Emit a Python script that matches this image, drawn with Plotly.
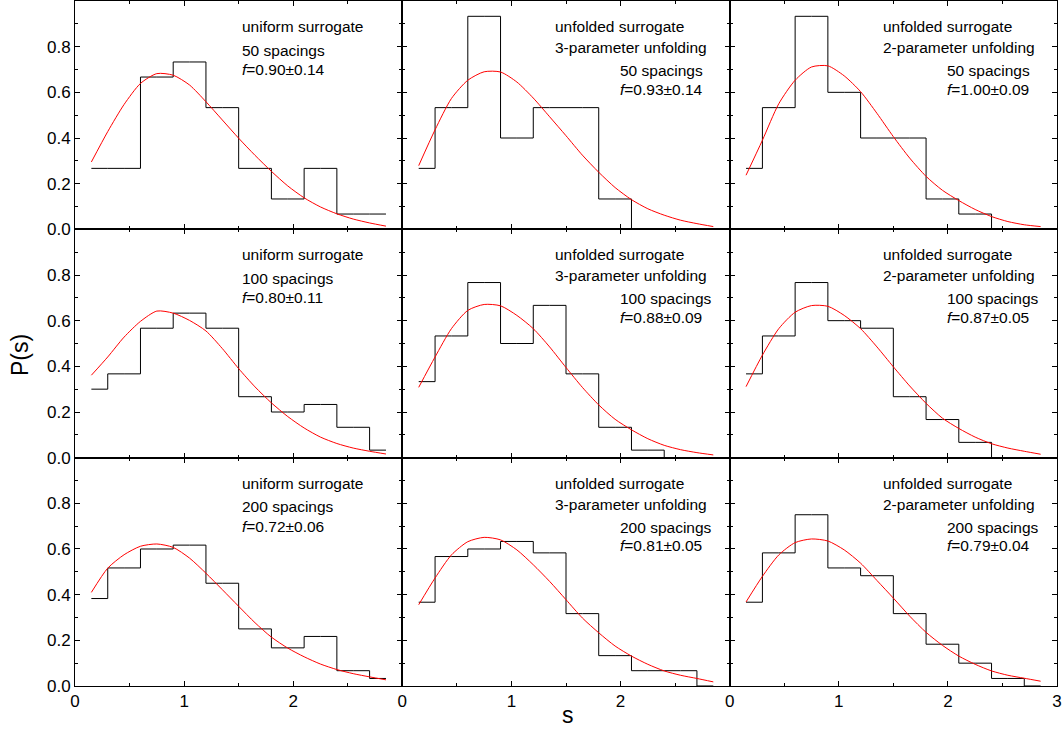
import plotly.graph_objects as go
from plotly.subplots import make_subplots

# ---------------- data ----------------
s_hist = [0.15, 0.45, 0.75, 1.05, 1.35, 1.65, 1.95, 2.25, 2.55, 2.85]
s_fit = [0.15, 0.30, 0.45, 0.60, 0.75, 0.90, 1.05, 1.20, 1.35, 1.50,
         1.65, 1.80, 1.95, 2.10, 2.25, 2.40, 2.55, 2.70, 2.85]

hist_uniform_50 = [0.267, 0.267, 0.667, 0.733, 0.533, 0.267, 0.133, 0.267, 0.067, 0.067]
hist_3par_50 = [0.267, 0.533, 0.933, 0.400, 0.533, 0.533, 0.133, 0.0, 0.0, 0.0]
hist_2par_50 = [0.267, 0.533, 0.933, 0.600, 0.400, 0.400, 0.133, 0.067, 0.0, 0.0]
hist_uniform_100 = [0.300, 0.367, 0.567, 0.633, 0.567, 0.267, 0.200, 0.233, 0.133, 0.033]
hist_3par_100 = [0.333, 0.533, 0.767, 0.500, 0.667, 0.367, 0.133, 0.033, 0.0, 0.0]
hist_2par_100 = [0.367, 0.533, 0.767, 0.600, 0.567, 0.267, 0.167, 0.067, 0.0, 0.0]
hist_uniform_200 = [0.383, 0.517, 0.600, 0.617, 0.450, 0.250, 0.167, 0.217, 0.067, 0.033]
hist_3par_200 = [0.367, 0.567, 0.600, 0.633, 0.583, 0.317, 0.133, 0.067, 0.067, 0.0]
hist_2par_200 = [0.367, 0.583, 0.750, 0.517, 0.483, 0.317, 0.183, 0.100, 0.033, 0.0]

fit_uniform_50 = [0.295, 0.428, 0.547, 0.639, 0.682, 0.675, 0.632, 0.559, 0.479, 0.399,
                  0.324, 0.254, 0.190, 0.138, 0.098, 0.068, 0.045, 0.028, 0.014]
fit_3par_50 = [0.279, 0.436, 0.573, 0.653, 0.690, 0.689, 0.645, 0.575, 0.493, 0.410,
               0.325, 0.250, 0.183, 0.130, 0.090, 0.062, 0.040, 0.025, 0.012]
fit_2par_50 = [0.237, 0.390, 0.550, 0.653, 0.711, 0.716, 0.672, 0.603, 0.508, 0.406,
               0.312, 0.232, 0.171, 0.126, 0.087, 0.056, 0.034, 0.020, 0.012]
fit_uniform_100 = [0.361, 0.441, 0.528, 0.597, 0.642, 0.633, 0.601, 0.555, 0.478, 0.390,
                   0.310, 0.240, 0.180, 0.130, 0.090, 0.062, 0.042, 0.028, 0.016]
fit_3par_100 = [0.308, 0.441, 0.565, 0.645, 0.671, 0.665, 0.623, 0.565, 0.485, 0.395,
                0.308, 0.231, 0.168, 0.122, 0.083, 0.054, 0.035, 0.022, 0.012]
fit_2par_100 = [0.311, 0.449, 0.565, 0.637, 0.666, 0.663, 0.623, 0.565, 0.485, 0.398,
                0.314, 0.238, 0.173, 0.128, 0.090, 0.061, 0.042, 0.028, 0.015]
fit_uniform_200 = [0.410, 0.516, 0.575, 0.612, 0.622, 0.607, 0.560, 0.494, 0.422, 0.349,
                   0.277, 0.214, 0.166, 0.128, 0.096, 0.072, 0.054, 0.040, 0.027]
fit_3par_200 = [0.356, 0.473, 0.574, 0.632, 0.651, 0.640, 0.596, 0.531, 0.458, 0.378,
                0.298, 0.233, 0.175, 0.131, 0.095, 0.066, 0.047, 0.033, 0.018]
fit_2par_200 = [0.368, 0.480, 0.574, 0.628, 0.644, 0.635, 0.596, 0.538, 0.462, 0.385,
                0.306, 0.235, 0.178, 0.131, 0.095, 0.066, 0.047, 0.034, 0.021]

methods = ["uniform surrogate",
           "unfolded surrogate<br>3-parameter unfolding",
           "unfolded surrogate<br>2-parameter unfolding"]
spacings = ["50 spacings", "100 spacings", "200 spacings"]
f_values = [["0.90±0.14", "0.93±0.14", "1.00±0.09"],
            ["0.80±0.11", "0.88±0.09", "0.87±0.05"],
            ["0.72±0.06", "0.81±0.05", "0.79±0.04"]]

hists = [[hist_uniform_50, hist_3par_50, hist_2par_50],
         [hist_uniform_100, hist_3par_100, hist_2par_100],
         [hist_uniform_200, hist_3par_200, hist_2par_200]]
fits = [[fit_uniform_50, fit_3par_50, fit_2par_50],
        [fit_uniform_100, fit_3par_100, fit_2par_100],
        [fit_uniform_200, fit_3par_200, fit_2par_200]]

y_ticks = [0.0, 0.2, 0.4, 0.6, 0.8]

# ---------------- figure ----------------
W, H = 1062, 729
ML, MR, MT, MB = 75, 5, 1, 43
PW, PH = W - ML - MR, H - MT - MB
ROW_H = PH / 3.0

FONT = "Liberation Sans, Arial, sans-serif"

fig = make_subplots(rows=3, cols=3, horizontal_spacing=0, vertical_spacing=0)

for r in range(3):
    for c in range(3):
        fig.add_trace(go.Scatter(x=s_hist, y=hists[r][c], mode="lines",
                                 line=dict(color="black", width=1, shape="hvh"),
                                 hoverinfo="skip"), row=r + 1, col=c + 1)
        fig.add_trace(go.Scatter(x=s_fit, y=fits[r][c], mode="lines",
                                 line=dict(color="#ff0000", width=1, shape="spline", smoothing=0.7),
                                 hoverinfo="skip"), row=r + 1, col=c + 1)

        idx = r * 3 + c + 1
        xref = "x" if idx == 1 else f"x{idx}"
        yref = "y" if idx == 1 else f"y{idx}"

        def ypos(off):
            return 1.0 - off / ROW_H

        ann_font = dict(family=FONT, size=15.5, color="black")
        if c == 0:
            lines = [(methods[0], 1.51, 25.5), (spacings[r], 1.51, 49),
                     (f"<i>f</i>={f_values[r][c]}", 1.51, 68.5)]
        else:
            m1, m2 = methods[c].split("<br>")
            lines = [(m1, 1.385, 25.5), (m2, 1.385, 46.5), (spacings[r], 1.975, 69.5),
                     (f"<i>f</i>={f_values[r][c]}", 1.975, 88)]
        for txt, xx, off in lines:
            fig.add_annotation(x=xx, y=ypos(off), xref=xref, yref=yref, text=txt,
                               showarrow=False, xanchor="left", yanchor="middle",
                               font=ann_font)

        fig.update_xaxes(range=[0, 3], tickmode="array",
                         tickvals=[0, 1, 2, 3], ticktext=["0", "1", "2", "3" if c == 2 else ""],
                         ticks="inside", ticklen=5, tickwidth=1, tickcolor="black",
                         minor=dict(tickmode="array", tickvals=[0.5, 1.5, 2.5], ticks="inside",
                                    ticklen=3, tickwidth=1, tickcolor="black"),
                         showline=True, linecolor="black", linewidth=1, mirror="ticks",
                         showgrid=False, zeroline=False,
                         showticklabels=(r == 2),
                         tickfont=dict(family=FONT, size=17, color="black"),
                         row=r + 1, col=c + 1)
        fig.update_yaxes(range=[0, 1.0], tickmode="array",
                         tickvals=[0, 0.2, 0.4, 0.6, 0.8, 1.0],
                         ticktext=[f"{v:.1f}" for v in y_ticks] + [""],
                         ticks="inside", ticklen=5, tickwidth=1, tickcolor="black",
                         minor=dict(tickmode="array", tickvals=[0.1, 0.3, 0.5, 0.7, 0.9],
                                    ticks="inside", ticklen=3, tickwidth=1, tickcolor="black"),
                         showline=True, linecolor="black", linewidth=1, mirror="ticks",
                         showgrid=False, zeroline=False,
                         showticklabels=(c == 0),
                         tickfont=dict(family=FONT, size=17, color="black"),
                         row=r + 1, col=c + 1)

# axis titles
fig.add_annotation(x=(20 - ML) / PW, y=(H - MB - 355) / PH, xref="paper", yref="paper",
                   text="P(s)", textangle=-90, showarrow=False,
                   xanchor="center", yanchor="middle",
                   font=dict(family=FONT, size=23, color="black"))
fig.add_annotation(x=(568 - ML) / PW, y=(H - MB - 715) / PH, xref="paper", yref="paper",
                   text="s", showarrow=False, xanchor="center", yanchor="middle",
                   font=dict(family=FONT, size=23, color="black"))

fig.update_layout(width=W, height=H, margin=dict(l=ML, r=MR, t=MT, b=MB),
                  plot_bgcolor="white", paper_bgcolor="white", showlegend=False,
                  font=dict(family=FONT, color="black"))

fig.write_html("out.html", config={"displayModeBar": False},
               post_script="document.body.style.margin='0px';document.body.style.overflow='hidden';")
